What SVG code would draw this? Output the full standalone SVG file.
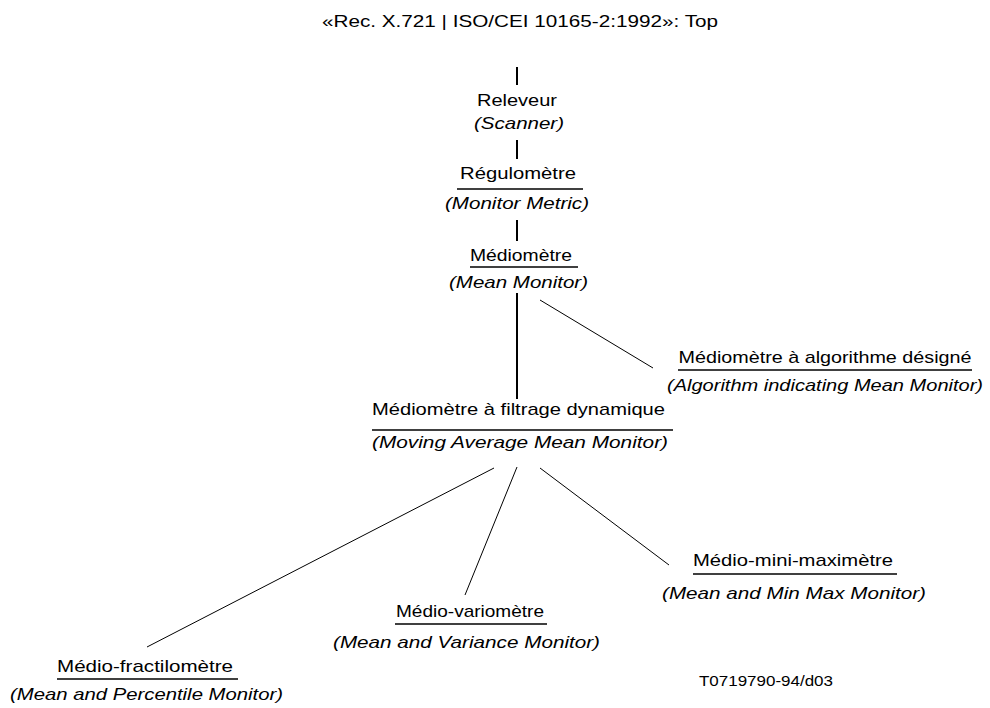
<svg xmlns="http://www.w3.org/2000/svg" width="990" height="708" viewBox="0 0 990 708">
<style>
text{font-family:"Liberation Sans",Arial,sans-serif;font-size:17px;fill:#000;text-anchor:middle}
.i{font-style:italic}
.u{stroke:#000;stroke-width:1.6}
.v{stroke:#000;stroke-width:2}
.d{stroke:#000;stroke-width:1}
</style>
<rect width="990" height="708" fill="#fff"/>
<g id="title"><text x="520" y="27" textLength="396" lengthAdjust="spacingAndGlyphs">«Rec. X.721 | ISO/CEI 10165-2:1992»: Top</text></g>
<g id="connectors">
<line class="v" x1="517" y1="67" x2="517" y2="85"/>
<line class="v" x1="517" y1="140" x2="517" y2="159"/>
<line class="v" x1="517" y1="220" x2="517" y2="241"/>
<line class="v" x1="517" y1="293" x2="517" y2="399"/>
<line class="d" x1="540" y1="300" x2="653" y2="368"/>
<line class="d" x1="494" y1="468" x2="147" y2="647"/>
<line class="d" x1="517" y1="467" x2="465" y2="595"/>
<line class="d" x1="540" y1="468" x2="669" y2="565"/>
</g>
<g id="scanner"><text x="517" y="106" textLength="80" lengthAdjust="spacingAndGlyphs">Releveur</text><text class="i" x="519" y="129" textLength="90" lengthAdjust="spacingAndGlyphs">(Scanner)</text></g>
<g id="monitor-metric"><text x="518" y="179" textLength="116" lengthAdjust="spacingAndGlyphs">Régulomètre</text><line class="u" x1="457" y1="189" x2="583" y2="189"/><text class="i" x="517" y="209" textLength="144" lengthAdjust="spacingAndGlyphs">(Monitor Metric)</text></g>
<g id="mean-monitor"><text x="521" y="261" textLength="102" lengthAdjust="spacingAndGlyphs">Médiomètre</text><line class="u" x1="470" y1="267" x2="578" y2="267"/><text class="i" x="518.5" y="288" textLength="139" lengthAdjust="spacingAndGlyphs">(Mean Monitor)</text></g>
<g id="algorithm-mean-monitor"><text x="825" y="363" textLength="293" lengthAdjust="spacingAndGlyphs">Médiomètre à algorithme désigné</text><line class="u" x1="678" y1="370" x2="972" y2="370"/><text class="i" x="825" y="391" textLength="316" lengthAdjust="spacingAndGlyphs">(Algorithm indicating Mean Monitor)</text></g>
<g id="moving-average-mean-monitor"><text x="518.5" y="415" textLength="293" lengthAdjust="spacingAndGlyphs">Médiomètre à filtrage dynamique</text><line class="u" x1="372" y1="430" x2="673" y2="430"/><text class="i" x="520" y="448" textLength="296" lengthAdjust="spacingAndGlyphs">(Moving Average Mean Monitor)</text></g>
<g id="mean-min-max-monitor"><text x="793" y="566" textLength="200" lengthAdjust="spacingAndGlyphs">Médio-mini-maximètre</text><line class="u" x1="693" y1="574" x2="897" y2="574"/><text class="i" x="794" y="599" textLength="264" lengthAdjust="spacingAndGlyphs">(Mean and Min Max Monitor)</text></g>
<g id="mean-variance-monitor"><text x="470" y="617" textLength="148" lengthAdjust="spacingAndGlyphs">Médio-variomètre</text><line class="u" x1="395" y1="624" x2="547" y2="624"/><text class="i" x="466.5" y="648" textLength="267" lengthAdjust="spacingAndGlyphs">(Mean and Variance Monitor)</text></g>
<g id="mean-percentile-monitor"><text x="145" y="672" textLength="176" lengthAdjust="spacingAndGlyphs">Médio-fractilomètre</text><line class="u" x1="57" y1="679" x2="238" y2="679"/><text class="i" x="146.5" y="700" textLength="273" lengthAdjust="spacingAndGlyphs">(Mean and Percentile Monitor)</text></g>
<g id="reference"><text x="766" y="686" style="font-size:15px" textLength="134" lengthAdjust="spacingAndGlyphs">T0719790-94/d03</text></g>
</svg>
